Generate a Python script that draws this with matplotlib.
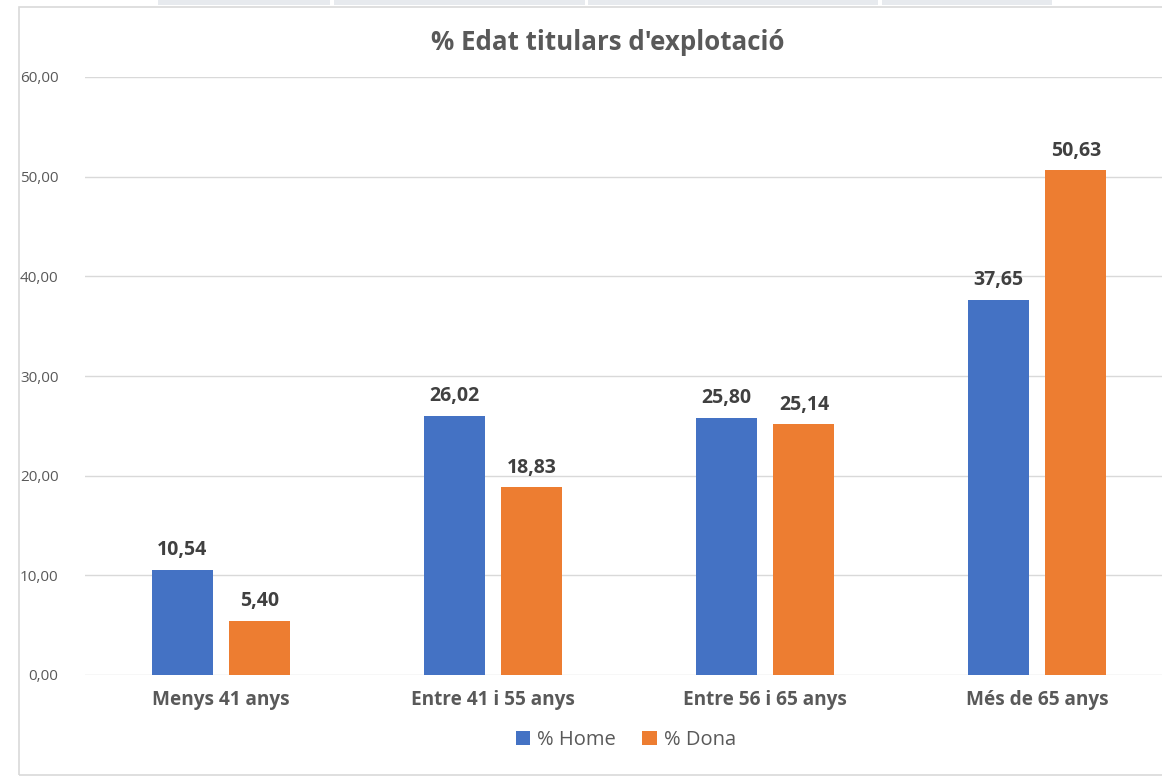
import matplotlib.pyplot as plt
import numpy as np
from matplotlib.patches import Rectangle

# Data
categories = ['Menys 41 anys', 'Entre 41 i 55 anys', 'Entre 56 i 65 anys', 'Més de 65 anys']
home = [10.54, 26.02, 25.80, 37.65]
dona = [5.40, 18.83, 25.14, 50.63]
yticks = [0, 10, 20, 30, 40, 50, 60]

BLUE = '#4472C4'
ORANGE = '#ED7D31'
GRID = '#D9D9D9'
TXT = '#595959'
VAL = '#404040'

plt.rcParams['font.family'] = ['Open Sans', 'DejaVu Sans']

W, H = 1162, 777
fig = plt.figure(figsize=(W / 100, H / 100), dpi=100)

# chart border and the header strip at the top edge
fig.patches.append(Rectangle((19 / W, 1 - 775 / H), 1.2, (775 - 7) / H,
                             transform=fig.transFigure, fill=False,
                             edgecolor=GRID, linewidth=1.2))
for x0, x1 in [(158, 330), (334, 585), (588, 878), (882, 1052)]:
    fig.patches.append(Rectangle((x0 / W, 1 - 5 / H), (x1 - x0) / W, 5 / H,
                                 transform=fig.transFigure, facecolor='#E7EAEE',
                                 edgecolor='none'))

ax = fig.add_axes([85 / W, 1 - 675 / H, (1173 - 85) / W, (675 - 77) / H])

x = np.arange(len(categories))
bw = 0.224
off = 0.143
b1 = ax.bar(x - off, home, bw, color=BLUE, label='% Home', zorder=3)
b2 = ax.bar(x + off, dona, bw, color=ORANGE, label='% Dona', zorder=3)

for bars in (b1, b2):
    for rect in bars:
        v = rect.get_height()
        ax.annotate(f'{v:.2f}'.replace('.', ','),
                    (rect.get_x() + rect.get_width() / 2, v),
                    xytext=(0, 7), textcoords='offset points',
                    ha='center', va='bottom', fontsize=14,
                    fontweight='bold', color=VAL)

ax.set_xlim(-0.5, len(categories) - 0.5)
ax.set_ylim(0, 60)
ax.set_yticks(yticks)
ax.set_yticklabels([f'{t:.2f}'.replace('.', ',') for t in yticks],
                   fontsize=11, color=TXT)
ax.set_xticks(x)
ax.set_xticklabels(categories, fontsize=13.7, fontweight='bold', color=TXT)
ax.tick_params(axis='both', length=0)
ax.tick_params(axis='x', pad=11)
ax.tick_params(axis='y', pad=19)
ax.grid(axis='y', color=GRID, linewidth=1, zorder=0)
for s in ax.spines.values():
    s.set_visible(False)

fig.text(608 / W, 1 - 42 / H, "% Edat titulars d'explotació", ha='center',
         va='center', fontsize=18.6, fontweight='bold', color=TXT)

fig.legend(loc='center', bbox_to_anchor=(626 / W, 1 - 740 / H), ncol=2,
           frameon=False, fontsize=14.5, handlelength=0.7, handleheight=0.7,
           handletextpad=0.35, columnspacing=1.3, labelcolor=TXT)

fig.savefig('out.png', dpi=100)
